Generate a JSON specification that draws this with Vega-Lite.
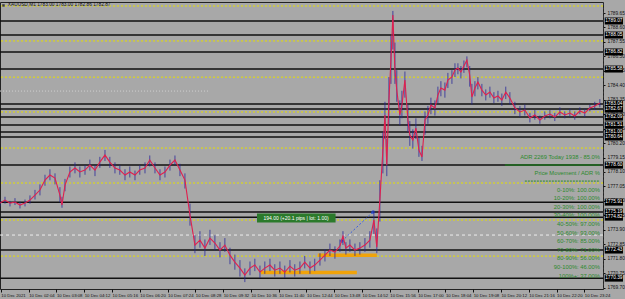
{
  "$schema": "https://vega.github.io/schema/vega-lite/v6.json",
  "width": 603,
  "height": 287,
  "autosize": "none",
  "padding": {"left": 0, "top": 2, "right": 22, "bottom": 10},
  "background": "#a8a8a8",
  "config": {
    "view": {"stroke": "#222", "strokeWidth": 1},
    "axis": {"labelFont": "Liberation Sans", "labelFontSize": 5, "labelColor": "#111", "tickColor": "#111", "domainColor": "#111", "grid": false, "title": null},
    "text": {"font": "Liberation Sans"}
  },
  "resolve": {"axis": {"x": "independent", "y": "independent"}},
  "datasets": {
    "price": [
      {"t":58,"p":1775.84,"lo":1775.6,"hi":1776.1},{"t":69.5,"p":1776.06,"lo":1775.8,"hi":1776.3},{"t":81,"p":1775.84,"lo":1775.6,"hi":1776.0},{"t":92.5,"p":1775.92,"lo":1775.7,"hi":1776.2},{"t":104,"p":1775.70,"lo":1775.45,"hi":1775.95},{"t":115.6,"p":1775.84,"lo":1775.6,"hi":1776.1},{"t":127,"p":1776.06,"lo":1775.8,"hi":1776.4},{"t":138.6,"p":1776.42,"lo":1776.1,"hi":1776.8},{"t":150,"p":1776.79,"lo":1776.4,"hi":1777.2},{"t":161.6,"p":1777.51,"lo":1777.1,"hi":1777.9},{"t":173,"p":1777.88,"lo":1777.5,"hi":1778.3},{"t":184.7,"p":1777.66,"lo":1777.2,"hi":1778.0},{"t":196,"p":1776.42,"lo":1775.9,"hi":1777.0},{"t":200.8,"p":1775.70,"lo":1775.5,"hi":1776.3},{"t":207.7,"p":1777.15,"lo":1776.7,"hi":1777.6},{"t":219,"p":1778.10,"lo":1777.7,"hi":1778.5},{"t":230.7,"p":1778.39,"lo":1778.0,"hi":1778.8},{"t":242,"p":1778.10,"lo":1777.7,"hi":1778.5},{"t":253.8,"p":1778.24,"lo":1777.9,"hi":1778.6},{"t":265,"p":1778.60,"lo":1778.2,"hi":1779.0},{"t":276.8,"p":1778.24,"lo":1777.8,"hi":1778.6},{"t":288,"p":1778.82,"lo":1778.4,"hi":1779.2},{"t":299.8,"p":1779.33,"lo":1778.9,"hi":1779.7},{"t":311,"p":1778.82,"lo":1778.4,"hi":1779.2},{"t":322.8,"p":1778.39,"lo":1778.0,"hi":1778.8},{"t":334,"p":1778.24,"lo":1777.9,"hi":1778.6},{"t":345.9,"p":1777.88,"lo":1777.5,"hi":1778.3},{"t":357,"p":1778.10,"lo":1777.7,"hi":1778.5},{"t":368.9,"p":1777.88,"lo":1777.5,"hi":1778.2},{"t":380,"p":1778.24,"lo":1777.9,"hi":1778.6},{"t":392,"p":1778.39,"lo":1778.0,"hi":1778.8},{"t":403,"p":1778.97,"lo":1778.5,"hi":1779.3},{"t":415,"p":1778.39,"lo":1778.0,"hi":1778.8},{"t":426.5,"p":1777.88,"lo":1777.5,"hi":1778.3},{"t":438,"p":1778.10,"lo":1777.7,"hi":1778.5},{"t":449.5,"p":1778.60,"lo":1778.2,"hi":1779.0},{"t":461,"p":1778.97,"lo":1778.6,"hi":1779.3},{"t":472.5,"p":1778.24,"lo":1777.8,"hi":1778.7},{"t":484,"p":1777.51,"lo":1776.9,"hi":1778.0},{"t":495.6,"p":1774.97,"lo":1774.2,"hi":1775.8},{"t":507,"p":1772.79,"lo":1772.2,"hi":1773.5},{"t":518.6,"p":1773.15,"lo":1772.6,"hi":1773.8},{"t":530,"p":1772.57,"lo":1772.0,"hi":1773.2},{"t":541.6,"p":1773.30,"lo":1772.8,"hi":1773.9},{"t":553,"p":1772.94,"lo":1772.4,"hi":1773.5},{"t":564.7,"p":1772.43,"lo":1771.9,"hi":1773.0},{"t":576,"p":1772.79,"lo":1772.3,"hi":1773.3},{"t":587.7,"p":1772.06,"lo":1771.4,"hi":1772.6},{"t":599,"p":1771.55,"lo":1771.0,"hi":1772.1},{"t":610.7,"p":1771.12,"lo":1770.5,"hi":1771.7},{"t":622,"p":1770.61,"lo":1770.1,"hi":1771.1},{"t":633.8,"p":1771.12,"lo":1770.6,"hi":1771.6},{"t":645,"p":1771.34,"lo":1770.9,"hi":1771.8},{"t":656.8,"p":1770.83,"lo":1770.4,"hi":1771.3},{"t":668,"p":1771.12,"lo":1770.7,"hi":1771.6},{"t":679.8,"p":1771.34,"lo":1770.9,"hi":1771.8},{"t":691,"p":1770.97,"lo":1770.5,"hi":1771.4},{"t":702.8,"p":1771.12,"lo":1770.7,"hi":1771.6},{"t":714,"p":1770.83,"lo":1770.4,"hi":1771.3},{"t":725.9,"p":1771.26,"lo":1770.8,"hi":1771.7},{"t":737,"p":1770.97,"lo":1770.5,"hi":1771.4},{"t":748.9,"p":1771.12,"lo":1770.7,"hi":1771.6},{"t":760,"p":1771.55,"lo":1771.1,"hi":1772.0},{"t":772,"p":1771.12,"lo":1770.7,"hi":1771.6},{"t":783,"p":1771.34,"lo":1770.9,"hi":1771.8},{"t":795,"p":1771.70,"lo":1771.3,"hi":1772.2},{"t":806.5,"p":1772.06,"lo":1771.6,"hi":1772.5},{"t":818,"p":1772.43,"lo":1772.0,"hi":1772.9},{"t":829.5,"p":1772.28,"lo":1771.8,"hi":1772.7},{"t":841,"p":1772.72,"lo":1772.3,"hi":1773.2},{"t":848,"p":1773.44,"lo":1772.8,"hi":1773.8},{"t":854.8,"p":1772.57,"lo":1772.1,"hi":1773.0},{"t":864,"p":1772.79,"lo":1772.3,"hi":1773.2},{"t":875.6,"p":1772.43,"lo":1772.0,"hi":1772.9},{"t":887,"p":1772.57,"lo":1772.1,"hi":1773.0},{"t":898.6,"p":1772.79,"lo":1772.3,"hi":1773.3},{"t":910,"p":1773.15,"lo":1772.6,"hi":1773.8},{"t":919.3,"p":1774.61,"lo":1773.6,"hi":1775.3},{"t":926,"p":1772.64,"lo":1772.2,"hi":1774.0},{"t":933,"p":1776.06,"lo":1774.5,"hi":1777.5},{"t":940,"p":1779.69,"lo":1778.0,"hi":1781.0},{"t":944.7,"p":1782.24,"lo":1780.5,"hi":1783.2},{"t":949,"p":1778.60,"lo":1777.8,"hi":1780.5},{"t":953.9,"p":1783.33,"lo":1781.5,"hi":1785.0},{"t":958.5,"p":1786.23,"lo":1784.5,"hi":1788.0},{"t":963,"p":1789.51,"lo":1787.0,"hi":1789.8},{"t":967.7,"p":1785.51,"lo":1784.5,"hi":1787.5},{"t":972,"p":1784.05,"lo":1783.2,"hi":1785.5},{"t":979,"p":1782.24,"lo":1781.5,"hi":1783.3},{"t":983.8,"p":1782.96,"lo":1782.0,"hi":1784.0},{"t":990.7,"p":1784.78,"lo":1783.5,"hi":1785.4},{"t":997.6,"p":1781.87,"lo":1781.0,"hi":1783.0},{"t":1002,"p":1780.78,"lo":1780.0,"hi":1781.8},{"t":1009,"p":1780.42,"lo":1779.8,"hi":1781.2},{"t":1016,"p":1781.29,"lo":1780.5,"hi":1782.0},{"t":1023,"p":1779.69,"lo":1779.2,"hi":1780.6},{"t":1030,"p":1779.19,"lo":1778.9,"hi":1780.0},{"t":1037,"p":1781.87,"lo":1780.8,"hi":1782.5},{"t":1043.7,"p":1782.24,"lo":1781.6,"hi":1782.9},{"t":1050.6,"p":1782.96,"lo":1782.3,"hi":1783.5},{"t":1059.8,"p":1782.75,"lo":1782.2,"hi":1783.3},{"t":1066.7,"p":1783.69,"lo":1783.1,"hi":1784.3},{"t":1073.6,"p":1784.20,"lo":1783.6,"hi":1784.7},{"t":1082.8,"p":1784.05,"lo":1783.5,"hi":1784.6},{"t":1089.7,"p":1784.78,"lo":1784.2,"hi":1785.3},{"t":1099,"p":1785.00,"lo":1784.5,"hi":1785.5},{"t":1106,"p":1785.51,"lo":1785.0,"hi":1786.0},{"t":1112.8,"p":1785.65,"lo":1785.2,"hi":1786.0},{"t":1119.7,"p":1785.36,"lo":1784.9,"hi":1785.8},{"t":1126.6,"p":1785.80,"lo":1785.3,"hi":1786.2},{"t":1133.5,"p":1786.23,"lo":1785.7,"hi":1786.5},{"t":1140,"p":1785.14,"lo":1784.3,"hi":1785.8},{"t":1145,"p":1783.55,"lo":1783.0,"hi":1784.5},{"t":1152,"p":1784.20,"lo":1783.6,"hi":1784.7},{"t":1158.8,"p":1784.64,"lo":1784.1,"hi":1785.0},{"t":1168,"p":1784.05,"lo":1783.6,"hi":1784.5},{"t":1177,"p":1783.69,"lo":1783.3,"hi":1784.1},{"t":1186.5,"p":1783.91,"lo":1783.5,"hi":1784.3},{"t":1195.7,"p":1783.47,"lo":1783.1,"hi":1783.9},{"t":1205,"p":1783.62,"lo":1783.2,"hi":1784.0},{"t":1214,"p":1783.33,"lo":1782.9,"hi":1783.8},{"t":1223,"p":1783.91,"lo":1783.4,"hi":1784.3},{"t":1232.5,"p":1783.47,"lo":1783.0,"hi":1783.9},{"t":1244,"p":1782.75,"lo":1782.3,"hi":1783.2},{"t":1255.6,"p":1782.46,"lo":1782.1,"hi":1782.9},{"t":1267,"p":1782.60,"lo":1782.2,"hi":1783.0},{"t":1278.6,"p":1782.02,"lo":1781.7,"hi":1782.4},{"t":1290,"p":1782.24,"lo":1781.9,"hi":1782.6},{"t":1301.6,"p":1781.87,"lo":1781.6,"hi":1782.2},{"t":1313,"p":1782.17,"lo":1781.9,"hi":1782.5},{"t":1324.7,"p":1782.31,"lo":1782.0,"hi":1782.6},{"t":1336,"p":1782.09,"lo":1781.8,"hi":1782.4},{"t":1347.7,"p":1782.46,"lo":1782.2,"hi":1782.8},{"t":1359,"p":1782.24,"lo":1782.0,"hi":1782.5},{"t":1370.7,"p":1782.38,"lo":1782.1,"hi":1782.7},{"t":1382,"p":1782.17,"lo":1781.9,"hi":1782.5},{"t":1393.7,"p":1782.53,"lo":1782.3,"hi":1782.8},{"t":1405,"p":1782.38,"lo":1782.1,"hi":1782.7},{"t":1416.8,"p":1782.75,"lo":1782.5,"hi":1783.0},{"t":1428,"p":1782.89,"lo":1782.6,"hi":1783.2},{"t":1439.8,"p":1783.11,"lo":1782.8,"hi":1783.4}
    ],
    "levels": [
      {"p":1789.07},{"p":1788.05},{"p":1786.82},{"p":1785.58},{"p":1783.04},{"p":1782.67},{"p":1782.09},{"p":1781.51},{"p":1781.00},{"p":1780.64},{"p":1778.60},{"p":1775.91},{"p":1775.19},{"p":1774.82},{"p":1772.43},{"p":1770.39}
    ],
    "yellow": [
      {"p":1790.16},{"p":1787.62},{"p":1784.99},{"p":1782.46},{"p":1779.84},{"p":1777.30},{"p":1774.61},{"p":1771.99}
    ],
    "orange": [
      {"t1":659,"t2":880,"p":1770.79},{"t1":790,"t2":926,"p":1772.06}
    ],
    "trade": [
      {"t":845.6,"p":1773.08},{"t":917,"p":1775.19}
    ],
    "stats": [
      {"label":"ADR 2269  Today 1938 - 85.0%","p":1779.19},
      {"label":"Price Movement / ADR %","p":1778.02},
      {"label":"0-10%:  100.00%","p":1776.79},
      {"label":"10-20%:  100.00%","p":1776.21},
      {"label":"20-30%:  100.00%","p":1775.55},
      {"label":"30-40%:  100.00%","p":1774.97},
      {"label":"40-50%:  97.00%","p":1774.32},
      {"label":"50-60%:  93.00%","p":1773.66},
      {"label":"60-70%:  85.00%","p":1773.08},
      {"label":"70-80%:  71.00%","p":1772.43},
      {"label":"80-90%:  56.00%","p":1771.85},
      {"label":"90-100%:  46.00%","p":1771.19},
      {"label":"100%+:  37.00%","p":1770.54}
    ]
  },
  "layer": [
    {
      "data": {"name": "yellow"},
      "mark": {"type": "rule", "color": "#e6e000", "strokeWidth": 1, "strokeDash": [2, 2]},
      "encoding": {
        "y": {"field": "p", "type": "quantitative", "scale": {"domain": [1769.6, 1790.45], "zero": false, "nice": false}, "axis": null}
      }
    },
    {
      "data": {"values": [{}]},
      "mark": {"type": "rule", "color": "#eeeeee", "strokeWidth": 1, "strokeDash": [3, 3]},
      "encoding": {
        "y": {"datum": 1773.52, "type": "quantitative", "scale": {"domain": [1769.6, 1790.45], "zero": false, "nice": false}, "axis": null}
      }
    },
    {
      "data": {"values": [{}]},
      "mark": {"type": "rule", "color": "#cfcfcf", "strokeWidth": 1, "strokeDash": [1, 2]},
      "encoding": {
        "x": {"datum": 58, "type": "quantitative", "scale": {"domain": [58, 1447], "zero": false, "nice": false}, "axis": null},
        "x2": {"datum": 541},
        "y": {"datum": 1783.98, "type": "quantitative", "scale": {"domain": [1769.6, 1790.45], "zero": false, "nice": false}, "axis": null}
      }
    },
    {
      "data": {"name": "levels"},
      "mark": {"type": "rule", "color": "#111111", "strokeWidth": 1.5},
      "encoding": {
        "y": {"field": "p", "type": "quantitative", "scale": {"domain": [1769.6, 1790.45], "zero": false, "nice": false}, "axis": null}
      }
    },
    {
      "data": {"name": "orange"},
      "mark": {"type": "rule", "color": "#f0a30a", "strokeWidth": 3.5},
      "encoding": {
        "x": {"field": "t1", "type": "quantitative", "scale": {"domain": [58, 1447], "zero": false, "nice": false}, "axis": null},
        "x2": {"field": "t2"},
        "y": {"field": "p", "type": "quantitative", "scale": {"domain": [1769.6, 1790.45], "zero": false, "nice": false}, "axis": null}
      }
    },
    {
      "data": {"values": [{}]},
      "mark": {"type": "rule", "color": "#2b7a2b", "strokeWidth": 9},
      "encoding": {
        "x": {"datum": 650, "type": "quantitative", "scale": {"domain": [58, 1447], "zero": false, "nice": false}, "axis": null},
        "x2": {"datum": 831},
        "y": {"datum": 1774.75, "type": "quantitative", "scale": {"domain": [1769.6, 1790.45], "zero": false, "nice": false}, "axis": null}
      }
    },
    {
      "data": {"values": [{}]},
      "mark": {"type": "text", "color": "#ffffff", "fontSize": 5, "align": "center", "baseline": "middle"},
      "encoding": {
        "x": {"datum": 740, "type": "quantitative", "scale": {"domain": [58, 1447], "zero": false, "nice": false}, "axis": null},
        "y": {"datum": 1774.75, "type": "quantitative", "scale": {"domain": [1769.6, 1790.45], "zero": false, "nice": false}, "axis": null},
        "text": {"value": "194.00 (+20.1 pips | lot: 1.00)"}
      }
    },
    {
      "data": {"name": "trade"},
      "mark": {"type": "line", "color": "#3a5fdd", "strokeWidth": 1, "strokeDash": [2, 2]},
      "encoding": {
        "x": {"field": "t", "type": "quantitative", "scale": {"domain": [58, 1447], "zero": false, "nice": false}, "axis": null},
        "y": {"field": "p", "type": "quantitative", "scale": {"domain": [1769.6, 1790.45], "zero": false, "nice": false}, "axis": null}
      }
    },
    {
      "data": {"name": "trade"},
      "mark": {"type": "point", "shape": "cross", "color": "#2040e0", "filled": true, "size": 14},
      "encoding": {
        "x": {"field": "t", "type": "quantitative", "scale": {"domain": [58, 1447], "zero": false, "nice": false}, "axis": null},
        "y": {"field": "p", "type": "quantitative", "scale": {"domain": [1769.6, 1790.45], "zero": false, "nice": false}, "axis": null}
      }
    },
    {
      "data": {"name": "price"},
      "mark": {"type": "rule", "color": "#24249a", "strokeWidth": 1, "opacity": 0.75},
      "encoding": {
        "x": {"field": "t", "type": "quantitative", "scale": {"domain": [58, 1447], "zero": false, "nice": false}, "axis": null},
        "y": {"field": "lo", "type": "quantitative", "scale": {"domain": [1769.6, 1790.45], "zero": false, "nice": false}, "axis": null},
        "y2": {"field": "hi"}
      }
    },
    {
      "data": {"name": "price"},
      "mark": {"type": "line", "color": "#e0204f", "strokeWidth": 1.1},
      "encoding": {
        "x": {
          "field": "t", "type": "quantitative",
          "scale": {"domain": [58, 1447], "zero": false, "nice": false},
          "axis": {
            "orient": "bottom",
            "values": [60,124,188,252,316,380,444,508,572,636,700,764,828,892,956,1020,1084,1148,1212,1276,1340,1404],
            "labelExpr": "datum.value == 60 ? '10 Dec 2021' : '10 Dec ' + (floor(datum.value/60) < 10 ? '0' : '') + floor(datum.value/60) + ':' + (datum.value % 60 < 10 ? '0' : '') + (datum.value % 60)",
            "labelAlign": "left",
            "labelFontSize": 4.3,
            "labelPadding": 1,
            "tickSize": 3,
            "domain": false,
            "labelOverlap": false,
            "labelFlush": false,
            "labelBound": false
          }
        },
        "y": {
          "field": "p", "type": "quantitative",
          "scale": {"domain": [1769.6, 1790.45], "zero": false, "nice": false},
          "axis": {
            "orient": "right",
            "values": [1789.65,1788.6,1787.55,1786.5,1785.45,1784.4,1783.35,1782.3,1781.25,1780.2,1779.15,1778.1,1777.05,1776,1774.95,1773.9,1772.85,1771.8,1770.75,1769.7],
            "format": ".2f",
            "labelFontSize": 4.8,
            "tickSize": 2,
            "labelPadding": 2,
            "labelBaseline": "middle",
            "labelOverlap": false,
            "labelFlush": false,
            "domainDash": [2, 2],
            "domainColor": "#333"
          }
        }
      }
    },
    {
      "data": {"values": [{}]},
      "mark": {"type": "rule", "color": "#1f6f1f", "strokeWidth": 1.5},
      "encoding": {
        "x": {"datum": 1221, "type": "quantitative", "scale": {"domain": [58, 1447], "zero": false, "nice": false}, "axis": null},
        "x2": {"datum": 1440},
        "y": {"datum": 1778.6, "type": "quantitative", "scale": {"domain": [1769.6, 1790.45], "zero": false, "nice": false}, "axis": null}
      }
    },
    {
      "data": {"values": [{}]},
      "mark": {"type": "rule", "color": "#2d8a2d", "strokeWidth": 1, "strokeDash": [2, 1]},
      "encoding": {
        "x": {"datum": 1267, "type": "quantitative", "scale": {"domain": [58, 1447], "zero": false, "nice": false}, "axis": null},
        "x2": {"datum": 1440},
        "y": {"datum": 1777.44, "type": "quantitative", "scale": {"domain": [1769.6, 1790.45], "zero": false, "nice": false}, "axis": null}
      }
    },
    {
      "data": {"name": "stats"},
      "mark": {"type": "text", "color": "#2d8a2d", "fontSize": 5.8, "align": "right", "baseline": "middle"},
      "encoding": {
        "x": {"datum": 1440, "type": "quantitative", "scale": {"domain": [58, 1447], "zero": false, "nice": false}, "axis": null},
        "y": {"field": "p", "type": "quantitative", "scale": {"domain": [1769.6, 1790.45], "zero": false, "nice": false}, "axis": null},
        "text": {"field": "label"}
      }
    },
    {
      "data": {"name": "levels"},
      "mark": {"type": "rule", "color": "#000000", "strokeWidth": 7},
      "encoding": {
        "x": {"datum": 1451, "type": "quantitative", "scale": {"domain": [58, 1447], "zero": false, "nice": false}, "axis": null},
        "x2": {"datum": 1493},
        "y": {"field": "p", "type": "quantitative", "scale": {"domain": [1769.6, 1790.45], "zero": false, "nice": false}, "axis": null}
      }
    },
    {
      "data": {"name": "levels"},
      "mark": {"type": "text", "color": "#ffffff", "fontSize": 4.8, "align": "center", "baseline": "middle"},
      "encoding": {
        "x": {"datum": 1472, "type": "quantitative", "scale": {"domain": [58, 1447], "zero": false, "nice": false}, "axis": null},
        "y": {"field": "p", "type": "quantitative", "scale": {"domain": [1769.6, 1790.45], "zero": false, "nice": false}, "axis": null},
        "text": {"field": "p", "type": "quantitative", "format": ".2f"}
      }
    },
    {
      "data": {"values": [{}]},
      "mark": {"type": "text", "color": "#111111", "fontSize": 4.8, "align": "left", "baseline": "middle"},
      "encoding": {
        "x": {"datum": 76, "type": "quantitative", "scale": {"domain": [58, 1447], "zero": false, "nice": false}, "axis": null},
        "y": {"datum": 1790.2, "type": "quantitative", "scale": {"domain": [1769.6, 1790.45], "zero": false, "nice": false}, "axis": null},
        "text": {"value": "XAUUSD,M1  1783.00 1783.00 1782.86 1782.87"}
      }
    },
    {
      "data": {"values": [{}]},
      "mark": {"type": "point", "shape": "square", "color": "#111111", "filled": true, "size": 6},
      "encoding": {
        "x": {"datum": 66, "type": "quantitative", "scale": {"domain": [58, 1447], "zero": false, "nice": false}, "axis": null},
        "y": {"datum": 1790.2, "type": "quantitative", "scale": {"domain": [1769.6, 1790.45], "zero": false, "nice": false}, "axis": null}
      }
    }
  ]
}
